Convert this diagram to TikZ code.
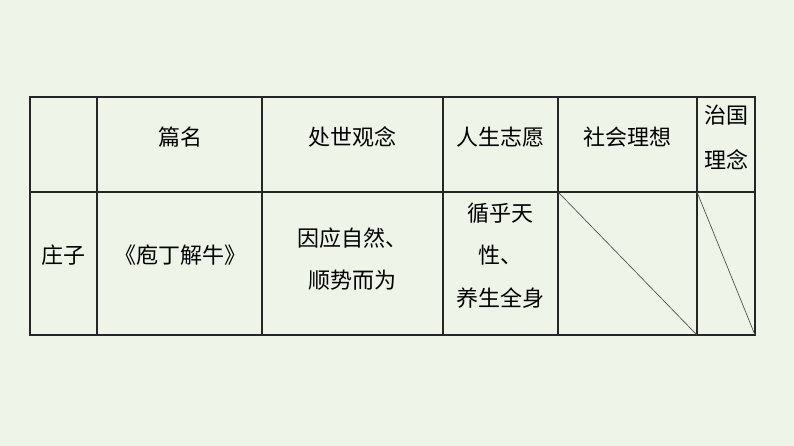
\documentclass[tikz,border=0pt]{standalone}
\usepackage{fontspec}
\setmainfont{Noto Sans CJK SC}
\definecolor{bg}{HTML}{EFF4E8}
\begin{document}
\begin{tikzpicture}[x=0.75pt,y=-0.75pt,
  grid/.style={line width=0.9pt,black!85},
  diag/.style={line width=0.5pt,black!70},
  txt/.style={font=\fontsize{16.5}{16.5}\selectfont,inner sep=0pt}]
\fill[bg] (0,0) rectangle (794,446);
\useasboundingbox (0,0) rectangle (794,446);
\draw[grid] (30,97) rectangle (755,335);
\draw[grid] (30,192) -- (755,192);
\foreach \x in {97,262,443,558,697} \draw[grid] (\x,97) -- (\x,335);
\coordinate (a1) at (558,192); \coordinate (a2) at (697,335);
\coordinate (b1) at (697,192); \coordinate (b2) at (755,335);
\draw[diag] (a1) -- (a2);
\draw[diag] (b1) -- (b2);
\node[txt] (h1) at (180,137) {篇名};
\node[txt] (h2) at (352,137) {处世观念};
\node[txt] (h3) at (500,137) {人生志愿};
\node[txt] (h4) at (627,137) {社会理想};
\node[txt] (h5a) at (726,115) {治国};
\node[txt] (h5b) at (726,160) {理念};
\node[txt] (c0) at (63,255) {庄子};
\node[txt] (c1) at (180,255) {《庖丁解牛》};
\node[txt] (c2a) at (352,238) {因应自然、};
\node[txt] (c2b) at (352,280) {顺势而为};
\node[txt] (c3a) at (500,213) {循乎天};
\node[txt] (c3b) at (500,255) {性、};
\node[txt] (c3c) at (500,298) {养生全身};
\end{tikzpicture}
\end{document}
